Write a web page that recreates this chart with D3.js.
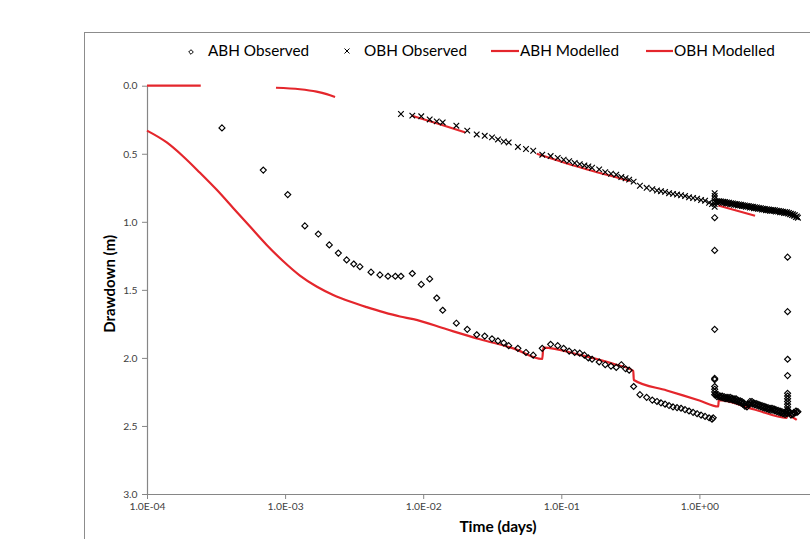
<!DOCTYPE html>
<html>
<head>
<meta charset="utf-8">
<script src="https://cdn.jsdelivr.net/npm/d3@7"></script>
<style>
  body { margin: 0; background: #fff; }
  svg { display: block; }
</style>
</head>
<body>
<svg id="chart" width="810" height="539"></svg>
<script>
// ---------------- DATA ----------------
const xTickValues = [1e-4, 1e-3, 1e-2, 1e-1, 1e0];
const yTickValues = [0, 0.5, 1.0, 1.5, 2.0, 2.5, 3.0];
const seriesNames = ["ABH Observed", "OBH Observed", "ABH Modelled", "OBH Modelled"];
const xAxisTitle = "Time (days)";
const yAxisTitle = "Drawdown (m)";

// [time (days), drawdown (m)]
const abhObserved = [
  [3.49e-4, 0.31], [6.95e-4, 0.62], [1.045e-3, 0.80], [1.39e-3, 1.03], [1.74e-3, 1.09],
  [2.09e-3, 1.17], [2.43e-3, 1.23], [2.79e-3, 1.28], [3.14e-3, 1.31], [3.48e-3, 1.33],
  [4.19e-3, 1.37], [4.86e-3, 1.39], [5.56e-3, 1.40], [6.28e-3, 1.40], [6.90e-3, 1.40],
  [8.34e-3, 1.38], [9.68e-3, 1.46], [1.114e-2, 1.42], [1.253e-2, 1.56], [1.384e-2, 1.65],
  [1.738e-2, 1.745], [2.085e-2, 1.79], [2.44e-2, 1.83], [2.79e-2, 1.84], [3.15e-2, 1.86],
  [3.48e-2, 1.875], [3.83e-2, 1.89], [4.16e-2, 1.91], [4.85e-2, 1.93], [5.55e-2, 1.96],
  [6.26e-2, 1.98], [7.28e-2, 1.93], [8.37e-2, 1.90], [9.42e-2, 1.91], [0.104, 1.93],
  [0.114, 1.95], [0.125, 1.96], [0.136, 1.965], [0.147, 1.98], [0.157, 2.00],
  [0.167, 2.01], [0.188, 2.03], [0.208, 2.05], [0.229, 2.06], [0.250, 2.07],
  [0.272, 2.05], [0.292, 2.08], [0.310, 2.09], [0.334, 2.21], [0.371, 2.27],
  [0.415, 2.29], [0.456, 2.31], [0.493, 2.32], [0.527, 2.33], [0.564, 2.34],
  [0.603, 2.35], [0.644, 2.36], [0.689, 2.365], [0.736, 2.37], [0.787, 2.38],
  [0.841, 2.39], [0.900, 2.40], [0.962, 2.41], [1.028, 2.42], [1.099, 2.43],
  [1.175, 2.44], [1.234, 2.45], [1.26, 2.44],
  [1.29, 0.97], [1.29, 1.21], [1.29, 1.79], [1.29, 2.15], [1.29, 2.16], [1.29, 2.21],
  [1.29, 2.23], [1.29, 2.25], [1.29, 2.27],
  [1.32, 2.27], [1.365, 2.27], [1.41, 2.28], [1.46, 2.28], [1.51, 2.285], [1.56, 2.29],
  [1.61, 2.29], [1.67, 2.29], [1.72, 2.295], [1.78, 2.30], [1.84, 2.30], [1.90, 2.31],
  [1.97, 2.315], [2.03, 2.32], [2.10, 2.33], [2.17, 2.35], [2.25, 2.34], [2.32, 2.32],
  [2.40, 2.32], [2.48, 2.33], [2.57, 2.335], [2.65, 2.34], [2.74, 2.345], [2.84, 2.35],
  [2.93, 2.355], [3.03, 2.36], [3.14, 2.365], [3.24, 2.37], [3.35, 2.37], [3.47, 2.375],
  [3.58, 2.38], [3.71, 2.385], [3.83, 2.39], [3.96, 2.395], [4.10, 2.40], [4.24, 2.40],
  [4.38, 2.39], [4.53, 2.40], [4.68, 2.41], [4.84, 2.40], [5.00, 2.39], [5.17, 2.395],
  [1.34, 2.285], [1.39, 2.285], [1.435, 2.29], [1.485, 2.295], [1.535, 2.30], [1.585, 2.30],
  [1.64, 2.305], [1.695, 2.305], [1.75, 2.31], [1.81, 2.315], [1.87, 2.32], [1.935, 2.325],
  [2.00, 2.33], [2.065, 2.34], [2.135, 2.355], [2.21, 2.36], [2.285, 2.34], [2.36, 2.335],
  [2.44, 2.34], [2.525, 2.345], [2.61, 2.35], [2.695, 2.355], [2.79, 2.36], [2.885, 2.365],
  [2.98, 2.37], [3.085, 2.375], [3.19, 2.38], [3.295, 2.385], [3.41, 2.385], [3.525, 2.39],
  [3.645, 2.395], [3.77, 2.40], [3.895, 2.405], [4.03, 2.41], [4.17, 2.415], [4.31, 2.41],
  [4.455, 2.405], [4.605, 2.42], [4.76, 2.415], [4.92, 2.405], [5.085, 2.40],
  [4.35, 1.26], [4.35, 1.66], [4.35, 2.01], [4.35, 2.13], [4.35, 2.26], [4.35, 2.28],
  [4.35, 2.30], [4.35, 2.32], [4.35, 2.34], [4.35, 2.36], [4.35, 2.38]
];

const obhObserved = [
  [6.90e-3, 0.208], [8.34e-3, 0.22], [9.68e-3, 0.225], [1.114e-2, 0.248], [1.253e-2, 0.262],
  [1.384e-2, 0.27], [1.738e-2, 0.294], [2.085e-2, 0.33], [2.44e-2, 0.358], [2.79e-2, 0.368],
  [3.15e-2, 0.38], [3.48e-2, 0.395], [3.83e-2, 0.41], [4.16e-2, 0.417], [4.85e-2, 0.45],
  [5.55e-2, 0.465], [6.26e-2, 0.478], [7.28e-2, 0.507], [8.37e-2, 0.517], [9.42e-2, 0.53],
  [0.104, 0.544], [0.114, 0.554], [0.125, 0.568], [0.136, 0.576], [0.147, 0.586],
  [0.157, 0.593], [0.167, 0.603], [0.188, 0.615], [0.208, 0.635], [0.229, 0.647],
  [0.250, 0.654], [0.272, 0.671], [0.292, 0.68], [0.310, 0.69], [0.334, 0.705],
  [0.371, 0.735], [0.415, 0.75], [0.456, 0.76], [0.493, 0.77], [0.527, 0.775],
  [0.564, 0.78], [0.603, 0.79], [0.644, 0.795], [0.689, 0.80], [0.736, 0.805],
  [0.787, 0.81], [0.841, 0.82], [0.900, 0.825], [0.962, 0.83], [1.028, 0.84],
  [1.099, 0.845], [1.175, 0.86], [1.234, 0.87],
  [1.29, 0.79], [1.29, 0.81], [1.29, 0.83], [1.29, 0.85], [1.29, 0.87], [1.29, 0.89],
  [1.32, 0.855], [1.365, 0.855], [1.41, 0.855], [1.46, 0.86], [1.51, 0.86], [1.56, 0.865],
  [1.61, 0.865], [1.67, 0.87], [1.72, 0.87], [1.78, 0.875], [1.84, 0.875], [1.90, 0.88],
  [1.97, 0.88], [2.03, 0.885], [2.10, 0.885], [2.17, 0.89], [2.25, 0.89], [2.32, 0.895],
  [2.40, 0.895], [2.48, 0.90], [2.57, 0.90], [2.65, 0.905], [2.74, 0.905], [2.84, 0.91],
  [2.93, 0.91], [3.03, 0.915], [3.14, 0.915], [3.24, 0.92], [3.35, 0.92], [3.47, 0.92],
  [3.58, 0.925], [3.71, 0.925], [3.83, 0.93], [3.96, 0.93], [4.10, 0.935], [4.24, 0.935],
  [4.38, 0.94], [4.53, 0.945], [4.68, 0.95], [4.84, 0.955], [5.00, 0.965], [5.17, 0.97],
  [1.34, 0.848], [1.39, 0.848], [1.435, 0.85], [1.485, 0.853], [1.535, 0.855], [1.585, 0.858],
  [1.64, 0.86], [1.695, 0.863], [1.75, 0.865], [1.81, 0.868], [1.87, 0.87], [1.935, 0.873],
  [2.00, 0.875], [2.065, 0.878], [2.135, 0.88], [2.21, 0.883], [2.285, 0.885], [2.36, 0.888],
  [2.44, 0.89], [2.525, 0.893], [2.61, 0.895], [2.695, 0.898], [2.79, 0.90], [2.885, 0.903],
  [2.98, 0.905], [3.085, 0.908], [3.19, 0.91], [3.295, 0.913], [3.41, 0.913], [3.525, 0.915],
  [3.645, 0.918], [3.77, 0.92], [3.895, 0.923], [4.03, 0.925], [4.17, 0.928], [4.31, 0.93],
  [4.455, 0.935], [4.605, 0.94], [4.76, 0.945], [4.92, 0.952], [5.085, 0.96]
];

const abhModelled = [
  [1e-4, 0.33], [1.39e-4, 0.417], [1.83e-4, 0.52], [2.42e-4, 0.64], [3.20e-4, 0.765],
  [4.22e-4, 0.90], [5.57e-4, 1.035], [7.36e-4, 1.17], [9.70e-4, 1.29], [1.28e-3, 1.395],
  [1.69e-3, 1.475], [2.23e-3, 1.537], [2.95e-3, 1.586], [3.90e-3, 1.627], [5.14e-3, 1.664],
  [6.79e-3, 1.696], [8.48e-3, 1.715], [1.48e-2, 1.79], [2.58e-2, 1.863], [4.49e-2, 1.93],
  [7.28e-2, 2.008], [7.41e-2, 1.925], [0.1365, 1.978], [0.238, 2.044], [0.332, 2.095],
  [0.335, 2.162], [0.58, 2.239], [1.0, 2.313], [1.37, 2.357], [1.38, 2.31],
  [2.5, 2.379], [4.29, 2.44], [4.33, 2.42], [5.07, 2.456]
];

// null drawdown = gap in the modelled line
const obhModelled = [
  [1e-4, 0.0], [2.45e-4, 0.0], [5e-4, null],
  [8.59e-4, 0.015], [1.28e-3, 0.026], [1.69e-3, 0.044], [2.0e-3, 0.062], [2.30e-3, 0.083], [4e-3, null],
  [8.26e-3, 0.22], [1.25e-2, 0.276], [2.01e-2, 0.343], [4e-2, null],
  [6.64e-2, 0.50], [0.144, 0.607], [0.314, 0.70], [0.6, null],
  [1.37, 0.88], [2.53, 0.956]
];

// ---------------- CHART ----------------
const svg = d3.select("#chart");
const RED = "#e4262c";
const AXIS = "#868686";
const FONT = "Lato, 'Open Sans', sans-serif";

// outer chart frame (extends beyond the window on the right/bottom)
svg.append("rect")
  .attr("x", 84.5).attr("y", 32.5)
  .attr("width", 900).attr("height", 700)
  .attr("fill", "#fff").attr("stroke", "#8c8c8c").attr("stroke-width", 1);

const x = d3.scaleLog().domain([1e-4, 1e1]).range([147, 837.5]);
const y = d3.scaleLinear().domain([0, 3]).range([85.7, 494]);

function sciFormat(d) {
  const [m, e] = d.toExponential(1).split("e");
  const sign = e[0] === "-" ? "-" : "+";
  return m + "E" + sign + String(Math.abs(+e)).padStart(2, "0");
}

// X axis
const gx = svg.append("g")
  .attr("transform", `translate(0,${y(3)})`)
  .call(d3.axisBottom(x).tickValues(xTickValues).tickFormat(sciFormat)
        .tickSize(5).tickSizeOuter(0).tickPadding(4));
// Y axis
const gy = svg.append("g")
  .attr("transform", `translate(${x(1e-4)},0)`)
  .call(d3.axisLeft(y).tickValues(yTickValues).tickFormat(d3.format(".1f"))
        .tickSize(5).tickSizeOuter(0).tickPadding(4.5));

[gx, gy].forEach(g => {
  g.select(".domain").attr("stroke", AXIS).attr("stroke-width", 1.2);
  g.selectAll(".tick line").attr("stroke", AXIS).attr("stroke-width", 1);
  g.selectAll(".tick text").attr("fill", "#404040")
    .attr("font-family", FONT).attr("font-size", 10.3);
});

// Axis titles
svg.append("text")
  .attr("x", 498).attr("y", 532)
  .attr("text-anchor", "middle")
  .attr("font-family", FONT).attr("font-weight", "bold").attr("font-size", 15.5)
  .attr("fill", "#000")
  .text(xAxisTitle);

svg.append("text")
  .attr("transform", `translate(114.5,${(y(0) + y(3)) / 2 - 6}) rotate(-90)`)
  .attr("text-anchor", "middle")
  .attr("font-family", FONT).attr("font-weight", "bold").attr("font-size", 15)
  .attr("fill", "#000")
  .text(yAxisTitle);

// Lines
const line = d3.line()
  .defined(d => d[1] !== null)
  .curve(d3.curveMonotoneX)
  .x(d => x(d[0])).y(d => y(d[1]));

const gLines = svg.append("g");
gLines.append("path").datum(abhModelled)
  .attr("d", line).attr("fill", "none").attr("stroke", RED).attr("stroke-width", 2.2);
gLines.append("path").datum(obhModelled)
  .attr("d", line).attr("fill", "none").attr("stroke", RED).attr("stroke-width", 2.2);

// Markers
const diamond = r => `M0,${-r}L${r},0L0,${r}L${-r},0Z`;
const cross = r => `M${-r},${-r}L${r},${r}M${-r},${r}L${r},${-r}`;

svg.append("g").selectAll("path").data(abhObserved).join("path")
  .attr("transform", d => `translate(${x(d[0])},${y(d[1])})`)
  .attr("d", diamond(3))
  .attr("fill", "none").attr("stroke", "#000").attr("stroke-width", 1.15);

svg.append("g").selectAll("path").data(obhObserved).join("path")
  .attr("transform", d => `translate(${x(d[0])},${y(d[1])})`)
  .attr("d", cross(2.8))
  .attr("fill", "none").attr("stroke", "#000").attr("stroke-width", 1.15);

// Legend
const legend = svg.append("g").attr("font-family", FONT).attr("font-size", 15.3).attr("fill", "#000");
const legendY = 51;
legend.append("path").attr("transform", `translate(191,${legendY + 1})`)
  .attr("d", diamond(2.3)).attr("fill", "none").attr("stroke", "#000").attr("stroke-width", 1);
legend.append("text").attr("x", 208).attr("y", legendY).attr("dy", "0.35em").text(seriesNames[0]);

legend.append("path").attr("transform", `translate(347,${legendY})`)
  .attr("d", cross(2.5)).attr("fill", "none").attr("stroke", "#000").attr("stroke-width", 1);
legend.append("text").attr("x", 364).attr("y", legendY).attr("dy", "0.35em").text(seriesNames[1]);

legend.append("line").attr("x1", 491).attr("x2", 519).attr("y1", legendY).attr("y2", legendY)
  .attr("stroke", RED).attr("stroke-width", 2.2);
legend.append("text").attr("x", 520).attr("y", legendY).attr("dy", "0.35em").text(seriesNames[2]);

legend.append("line").attr("x1", 646).attr("x2", 673).attr("y1", legendY).attr("y2", legendY)
  .attr("stroke", RED).attr("stroke-width", 2.2);
legend.append("text").attr("x", 674).attr("y", legendY).attr("dy", "0.35em").text(seriesNames[3]);
</script>
</body>
</html>
